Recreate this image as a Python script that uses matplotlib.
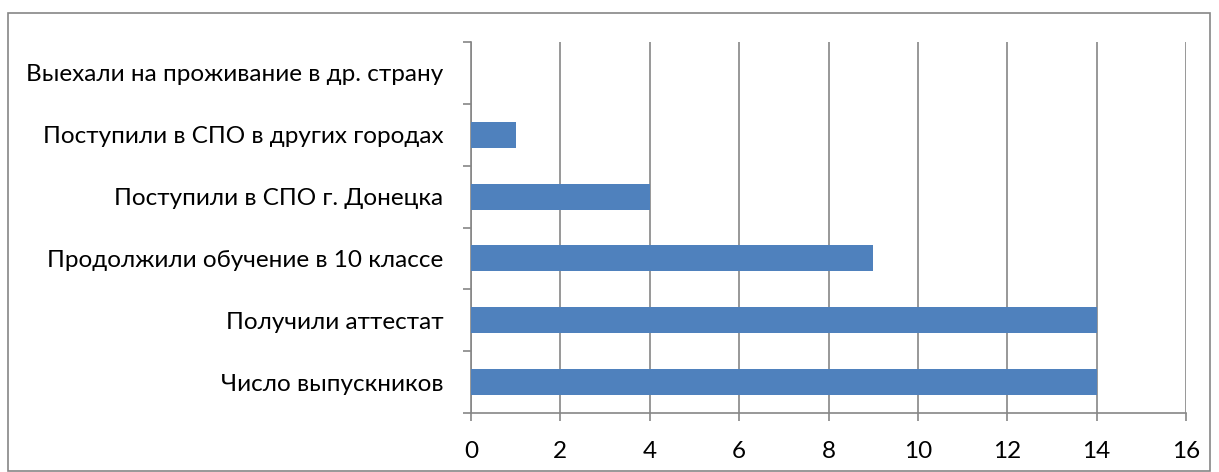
import matplotlib.pyplot as plt
from matplotlib.patches import Rectangle
import numpy as np

plt.rcParams['font.family'] = ['Lato', 'DejaVu Sans']

categories = ['Число выпускников', 'Получили аттестат', 'Продолжили обучение в 10 классе',
              'Поступили в СПО г. Донецка', 'Поступили в СПО в других городах',
              'Выехали на проживание в др. страну']
values = [14, 14, 9, 4, 1, 0]
x_ticks = [0, 2, 4, 6, 8, 10, 12, 14, 16]

grey = '#868686'
fig = plt.figure(figsize=(12.19, 4.72), dpi=100)
ax = fig.add_axes([471 / 1219, 1 - 413 / 472, (1186 - 471) / 1219, (413 - 42) / 472])

y = np.arange(len(categories))
ax.barh(y, values, height=0.42, color='#4F81BD', zorder=3)

ax.set_xlim(0, 16)
ax.set_ylim(-0.5, len(categories) - 0.5)
ax.set_xticks(x_ticks)
ax.set_xticklabels([str(t) for t in x_ticks], fontsize=17.5)
ax.set_yticks(y)
ax.set_yticklabels(categories, fontsize=17.5)
ax.tick_params(axis='y', length=0, pad=20)
ax.set_yticks(np.arange(-0.5, len(categories)), minor=True)
ax.tick_params(axis='y', which='minor', length=6, color=grey, width=1.2)
ax.tick_params(axis='x', length=6, color=grey, width=1.2, pad=14)

ax.grid(axis='x', color=grey, linewidth=1.2, zorder=0)
for s in ['top', 'right']:
    ax.spines[s].set_visible(False)
for s in ['left', 'bottom']:
    ax.spines[s].set_color(grey)
    ax.spines[s].set_linewidth(1.2)

fig.patches.append(Rectangle((8 / 1219, 0.002), 1202 / 1219, 1 - 13 / 472 - 0.002,
                             transform=fig.transFigure, fill=False,
                             edgecolor=grey, linewidth=1.2))

fig.savefig('out.png', dpi=100)
